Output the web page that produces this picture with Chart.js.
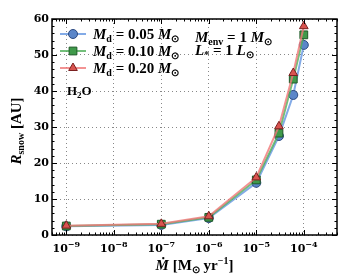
<!DOCTYPE html>
<html>
<head>
<meta charset="utf-8">
<script src="https://cdn.jsdelivr.net/npm/chart.js@4/dist/chart.umd.min.js"></script>
<style>
  html, body { margin: 0; padding: 0; background: #fff; }
  #wrap { width: 347px; height: 277px; }
</style>
</head>
<body>
<div id="wrap"><canvas id="snowChart" width="347" height="277"></canvas></div>
<script>
// accretion rate (Msun/yr) and snowline radius (AU) for three disk masses
const accretionRates = [1e-9, 1e-7, 1e-6, 1e-5, 3e-5, 6e-5, 1e-4];
const diskMasses = ['0.05', '0.10', '0.20'];
const rSnowLow = [2.4, 2.8, 4.7, 14.5, 27.5, 38.9, 52.8];
const rSnowMid = [2.5, 3.0, 4.9, 15.3, 28.3, 43.3, 55.6];
const rSnowHigh = [2.6, 3.1, 5.2, 16.0, 30.2, 45.0, 58.0];
const xTicks = [1e-9, 1e-8, 1e-7, 1e-6, 1e-5, 1e-4];
const yTicks = [0, 10, 20, 30, 40, 50, 60];

const SERIF = "'DejaVu Serif'";

// draw a run of text pieces with their own font and vertical shift
function drawRich(ctx, parts, x, y) {
    ctx.save();
    ctx.textBaseline = 'alphabetic';
    ctx.textAlign = 'left';
    ctx.fillStyle = '#000';
    for (const p of parts) {
        ctx.font = p.font;
        ctx.fillText(p.t, x, y + (p.dy || 0));
        x += ctx.measureText(p.t).width;
    }
    ctx.restore();
    return x;
}
function richWidth(ctx, parts) {
    ctx.save();
    let w = 0;
    for (const p of parts) { ctx.font = p.font; w += ctx.measureText(p.t).width; }
    ctx.restore();
    return w;
}

const fIt = "italic bold 15px 'Liberation Serif'";
const fBd = "bold 15px 'Liberation Serif'";
const fSub = "bold 10px 'Liberation Serif'";

const framePlugin = {
    id: 'frame',
    afterDraw(chart) {
        const ctx = chart.ctx;
        const a = chart.chartArea;
        const xs = chart.scales.x, ys = chart.scales.y;
        ctx.save();
        ctx.strokeStyle = '#000';
        ctx.lineWidth = 1;
        ctx.beginPath();
        // y ticks, inward on left and right
        for (let v = ys.min; v <= ys.max; v += 2) {
            const y = Math.round(ys.getPixelForValue(v)) + 0.5;
            const len = v % 10 === 0 ? 5 : 2.5;
            ctx.moveTo(a.left, y); ctx.lineTo(a.left + len, y);
            ctx.moveTo(a.right, y); ctx.lineTo(a.right - len, y);
        }
        // x ticks (log), inward on bottom and top
        for (let e = -10; e <= -3; e++) {
            for (let m = 1; m < 10; m++) {
                const v = m * Math.pow(10, e);
                if (v < xs.min || v > xs.max) continue;
                const x = Math.round(xs.getPixelForValue(v)) + 0.5;
                const len = m === 1 ? 5 : 2.5;
                ctx.moveTo(x, a.bottom); ctx.lineTo(x, a.bottom - len);
                ctx.moveTo(x, a.top); ctx.lineTo(x, a.top + len);
            }
        }
        ctx.stroke();
        ctx.lineWidth = 1.5;
        ctx.strokeRect(a.left, a.top, a.right - a.left, a.bottom - a.top);
        ctx.restore();

        // x tick labels as 10 with raised exponent
        xs.ticks.forEach(t => {
            const parts = [
                { t: '10', font: "bold 11px " + SERIF },
                { t: '\u2212' + String(-Math.round(Math.log10(t.value))), font: "bold 8px " + SERIF, dy: -5 }
            ];
            const x = xs.getPixelForValue(t.value);
            drawRich(ctx, parts, x - richWidth(ctx, parts) / 2, a.bottom + 17);
        });

        // legend
        chart.data.datasets.forEach((ds, i) => {
            const y = 34 + i * 17;
            ctx.save();
            ctx.strokeStyle = ds.borderColor;
            ctx.lineWidth = ds.borderWidth;
            ctx.beginPath(); ctx.moveTo(60, y); ctx.lineTo(86, y); ctx.stroke();
            ctx.fillStyle = ds.pointBackgroundColor;
            ctx.strokeStyle = ds.pointBorderColor;
            ctx.lineWidth = ds.pointBorderWidth;
            Chart.helpers.drawPoint(ctx, { pointStyle: ds.pointStyle, radius: ds.pointRadius, rotation: 0, borderWidth: ds.pointBorderWidth }, 73, y);
            ctx.restore();
            drawRich(ctx, [
                { t: 'M', font: fIt }, { t: 'd', font: fSub, dy: 3 },
                { t: ' = ' + diskMasses[i] + ' ', font: fBd },
                { t: 'M', font: fIt }, { t: '\u2299', font: fSub, dy: 3 }
            ], 93, y + 5);
        });

        // annotations
        drawRich(ctx, [
            { t: 'M', font: fIt }, { t: 'env', font: fSub, dy: 3 },
            { t: ' = 1 ', font: fBd }, { t: 'M', font: fIt }, { t: '\u2299', font: fSub, dy: 3 }
        ], 195, 42);
        drawRich(ctx, [
            { t: 'L', font: fIt }, { t: '*', font: fSub, dy: 3 },
            { t: ' = 1 ', font: fBd }, { t: 'L', font: fIt }, { t: '\u2299', font: fSub, dy: 3 }
        ], 195, 55);
        drawRich(ctx, [
            { t: 'H', font: "bold 13px 'Liberation Serif'" }, { t: '2', font: "bold 9px 'Liberation Serif'", dy: 3 },
            { t: 'O', font: "bold 13px 'Liberation Serif'" }
        ], 67, 95);

        // axis titles
        const xt = [
            { t: '\u1e40', font: fIt }, { t: ' [M', font: fBd }, { t: '\u2299', font: fSub, dy: 3 },
            { t: ' yr', font: fBd }, { t: '\u22121', font: fSub, dy: -6 }, { t: ']', font: fBd }
        ];
        const cx = (a.left + a.right) / 2;
        drawRich(ctx, xt, cx - richWidth(ctx, xt) / 2, 270);

        const yt = [
            { t: 'R', font: fIt }, { t: 'snow', font: fSub, dy: 3 }, { t: ' [AU]', font: fBd }
        ];
        ctx.save();
        ctx.translate(21, 131);
        ctx.rotate(-Math.PI / 2);
        drawRich(ctx, yt, -richWidth(ctx, yt) / 2, 0);
        ctx.restore();
    }
};

function series(values, line, fill, edge, style, radius, order) {
    return {
        data: accretionRates.map((x, i) => ({ x: x, y: values[i] })),
        borderColor: line,
        borderWidth: 2,
        pointBackgroundColor: fill,
        pointBorderColor: edge,
        pointBorderWidth: 1,
        pointStyle: style,
        pointRadius: radius,
        tension: 0,
        order: order
    };
}

new Chart(document.getElementById('snowChart').getContext('2d'), {
    type: 'line',
    data: {
        datasets: [
            series(rSnowLow, 'rgba(100,150,225,0.8)', '#5b86c9', '#2d4a80', 'circle', 4.5, 2),
            series(rSnowMid, 'rgba(80,175,90,0.8)', '#3f9a4a', '#1f5a28', 'rect', 5.5, 1),
            series(rSnowHigh, 'rgba(240,120,120,0.8)', '#d9534f', '#7a2020', 'triangle', 5, 0)
        ]
    },
    options: {
        responsive: false,
        animation: false,
        layout: { padding: { left: 0, right: 10, top: 19, bottom: 0 } },
        plugins: { legend: { display: false }, tooltip: { enabled: false } },
        scales: {
            x: {
                type: 'logarithmic',
                min: 5e-10,
                max: 5e-4,
                afterBuildTicks: s => { s.ticks = xTicks.map(v => ({ value: v })); },
                afterFit: s => { s.height = 42; },
                ticks: { display: false },
                grid: { color: '#888', lineWidth: 1, drawTicks: false },
                border: { display: false, dash: [1, 3] }
            },
            y: {
                min: 0,
                max: 60,
                afterBuildTicks: s => { s.ticks = yTicks.map(v => ({ value: v })); },
                afterFit: s => { s.width = 52; },
                ticks: {
                    color: '#000',
                    font: { family: SERIF, weight: 'bold', size: 11 },
                    padding: 3
                },
                grid: { color: '#888', lineWidth: 1, drawTicks: false },
                border: { display: false, dash: [1, 3] }
            }
        }
    },
    plugins: [framePlugin]
});
</script>
</body>
</html>
